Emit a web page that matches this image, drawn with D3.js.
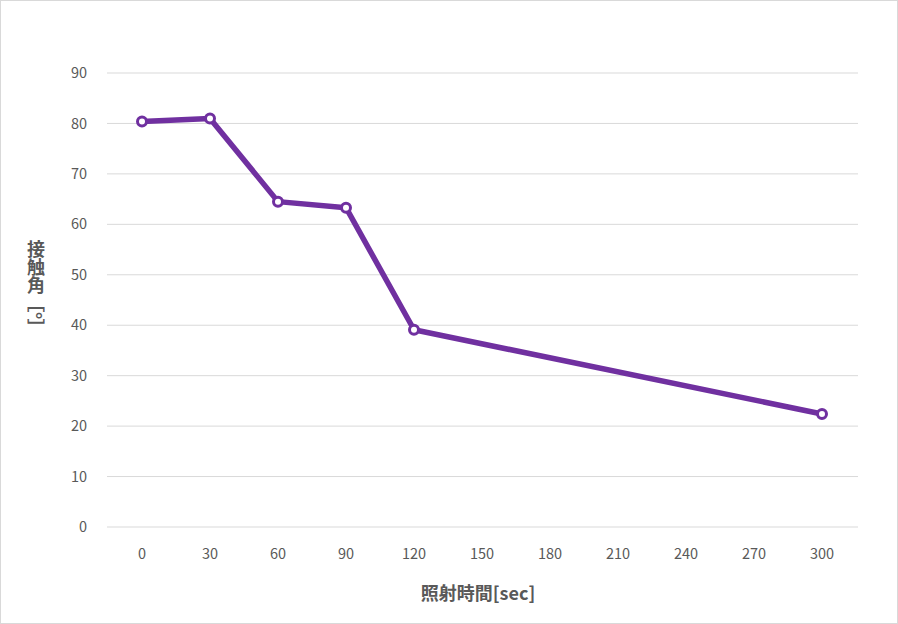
<!DOCTYPE html>
<html><head><meta charset="utf-8">
<script src="https://cdn.jsdelivr.net/npm/d3@7"></script>
<style>body{margin:0;background:#fff}svg{display:block}</style>
</head><body>
<svg id="c" width="898" height="624"></svg>
<script>
const xValues = [0, 30, 60, 90, 120, 300];
const yValues = [80.4, 81.0, 64.5, 63.3, 39.1, 22.4];
const xTicks = [0, 30, 60, 90, 120, 150, 180, 210, 240, 270, 300];
const yTicks = [0, 10, 20, 30, 40, 50, 60, 70, 80, 90];
const xTitle = "照射時間[sec]";
const yTitle = "接触角［°］";

const svg = d3.select("#c");
const font = "'Noto Sans CJK JP','Noto Sans',sans-serif";
svg.append("rect").attr("x",0.5).attr("y",0.5).attr("width",897).attr("height",623)
  .attr("fill","#fff").attr("stroke","#d9d9d9");
const x = d3.scaleLinear().domain([0,300]).range([142,822]);
const y = d3.scaleLinear().domain([0,90]).range([527,73]);
const g = svg.append("g");
g.selectAll("line.grid").data(yTicks).join("line")
  .attr("x1",107).attr("x2",858).attr("y1",d=>y(d)).attr("y2",d=>y(d))
  .attr("stroke","#d9d9d9").attr("stroke-width",1);
g.selectAll("text.yt").data(yTicks).join("text")
  .attr("x",87).attr("y",d=>y(d)).attr("dy","0.35em").attr("text-anchor","end")
  .attr("font-family",font).attr("font-size",14.5).attr("fill","#595959").text(d=>d);
g.selectAll("text.xt").data(xTicks).join("text")
  .attr("x",d=>x(d)).attr("y",554).attr("dy","0.35em").attr("text-anchor","middle")
  .attr("font-family",font).attr("font-size",14.5).attr("fill","#595959").text(d=>d);
svg.append("text").attr("x",478).attr("y",594).attr("dy","0.35em").attr("text-anchor","middle")
  .attr("font-family",font).attr("font-size",18).attr("font-weight","bold").attr("fill","#595959").text(xTitle);
svg.append("text").attr("x",36).attr("y",240)
  .attr("style","writing-mode:vertical-rl;text-orientation:mixed")
  .attr("font-family",font).attr("font-size",18).attr("font-weight","bold").attr("fill","#595959").text(yTitle);
const pts = xValues.map((v,i)=>[v,yValues[i]]);
svg.append("path").datum(pts).attr("fill","none").attr("stroke","#7030a0").attr("stroke-width",5.5)
  .attr("stroke-linejoin","round").attr("d",d3.line().x(d=>x(d[0])).y(d=>y(d[1])));
svg.selectAll("circle").data(pts).join("circle").attr("cx",d=>x(d[0])).attr("cy",d=>y(d[1]))
  .attr("r",4.5).attr("fill","#fff").attr("stroke","#7030a0").attr("stroke-width",3);
</script>
</body></html>
